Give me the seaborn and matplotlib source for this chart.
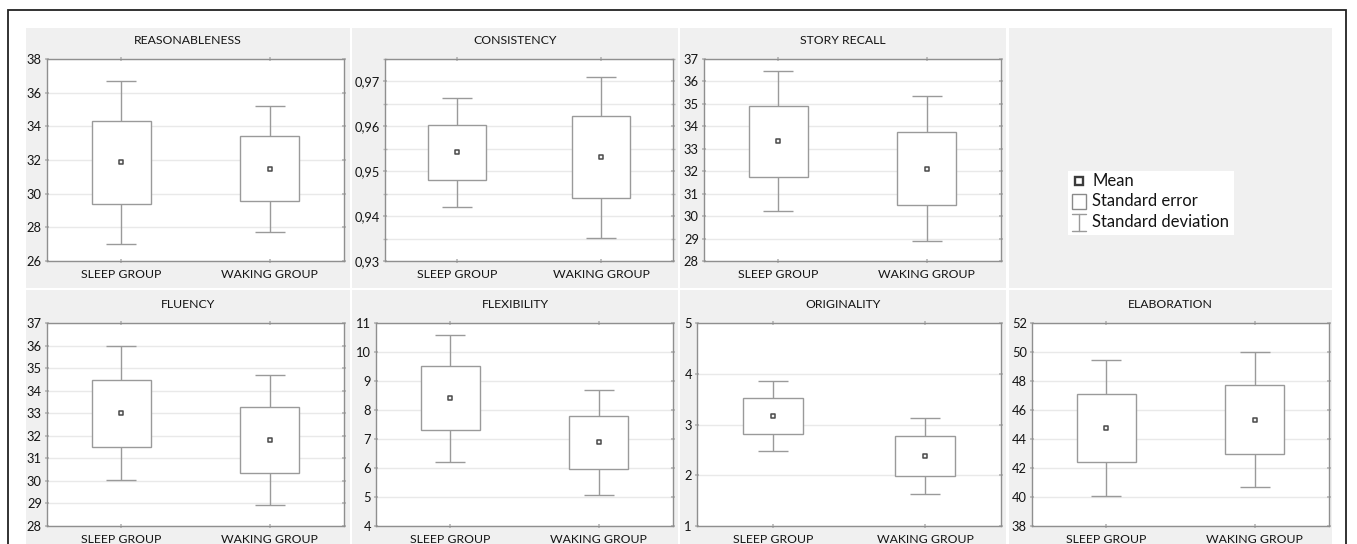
import numpy as np
import pandas as pd
import seaborn as sns
import matplotlib
matplotlib.use("Agg")
import matplotlib.pyplot as plt
from matplotlib.patches import Rectangle
from matplotlib.ticker import MultipleLocator, FuncFormatter

# ---- data -------------------------------------------------------------
groups = ["SLEEP GROUP", "WAKING GROUP"]
measures = ["REASONABLENESS", "CONSISTENCY", "STORY RECALL",
            "FLUENCY", "FLEXIBILITY", "ORIGINALITY", "ELABORATION"]

sleep_mean = [31.86, 0.9542, 33.34, 32.99, 8.41, 3.17, 44.75]
sleep_se = [2.45, 0.0062, 1.58, 1.50, 1.11, 0.35, 2.37]
sleep_sd = [4.85, 0.0122, 3.12, 2.97, 2.19, 0.69, 4.67]

waking_mean = [31.47, 0.9531, 32.12, 31.81, 6.88, 2.38, 45.33]
waking_se = [1.93, 0.0091, 1.64, 1.47, 0.92, 0.385, 2.37]
waking_sd = [3.76, 0.0179, 3.21, 2.90, 1.815, 0.74, 4.67]

legend_labels = ["Mean", "Standard error", "Standard deviation"]

# axis ranges and tick spacing per measure
y_limits = [(26, 38), (0.93, 0.975), (28, 37), (28, 37), (4, 11), (1, 5), (38, 52)]
label_step = [2, 0.01, 1, 1, 1, 1, 2]
grid_step = [2, 0.005, 1, 1, 1, 1, 2]

# ---- style ------------------------------------------------------------
sns.set_theme(style="white")
plt.rcParams["font.family"] = ["Lato", "DejaVu Sans"]

W, H = 1357, 544
fig = plt.figure(figsize=(W / 100, H / 100), dpi=100)
fig.patch.set_facecolor("white")

PANEL_BG = "#f0f0f0"
SPINE = "#8f8f8f"
GRID = "#e9e9e9"
BOX_EDGE = "#9a9a9a"
TEXT = "#141414"
FS = 8.8
TICK_FS = 9.3


def fx(px):
    return px / W


def fy(py):
    return 1 - py / H


# outer frame
fig.add_artist(Rectangle((fx(8), fy(560)), fx(1346) - fx(8), fy(10) - fy(560),
                         transform=fig.transFigure, fill=False,
                         edgecolor="#222222", linewidth=1.3, clip_on=False))

col_edges = [(26, 350), (352, 678), (680, 1006), (1009, 1332)]
row_edges = [(28, 288), (290, 560)]
for (r0, r1) in row_edges:
    for (c0, c1) in col_edges:
        fig.add_artist(Rectangle((fx(c0), fy(r1)), fx(c1) - fx(c0), fy(r0) - fy(r1),
                                 transform=fig.transFigure, facecolor=PANEL_BG,
                                 edgecolor="none", zorder=0))

# (panel row, panel column, axes left px, axes right px)
layout = [(0, 0, 47, 344), (0, 1, 385, 673), (0, 2, 704, 1001),
          (1, 0, 47, 344), (1, 1, 376, 673), (1, 2, 697, 1001), (1, 3, 1032, 1329)]
axes_rows = [(59, 261), (323, 526)]
title_y = [41, 305]

positions = np.arange(len(groups))

for i, name in enumerate(measures):
    row, col, left, right = layout[i]
    top, bottom = axes_rows[row]
    ax = fig.add_axes([fx(left), fy(bottom), fx(right) - fx(left), fy(top) - fy(bottom)])
    ax.set_facecolor("white")

    df = pd.DataFrame({
        "group": groups,
        "pos": positions,
        "mean": [sleep_mean[i], waking_mean[i]],
        "se": [sleep_se[i], waking_se[i]],
        "sd": [sleep_sd[i], waking_sd[i]],
    })

    # standard deviation whiskers
    ax.errorbar(df["pos"], df["mean"], yerr=df["sd"], fmt="none",
                ecolor=BOX_EDGE, elinewidth=1.0, capsize=10.5,
                capthick=1.0, zorder=2)
    # standard error boxes
    ax.bar(df["pos"], 2 * df["se"], bottom=df["mean"] - df["se"], width=0.4,
           facecolor="white", edgecolor=BOX_EDGE, linewidth=1.0, zorder=3)
    # means
    sns.scatterplot(data=df, x="pos", y="mean", marker="s", s=8,
                    color="#f4f4f4", edgecolor="#4a4a4a", linewidth=1.1,
                    zorder=4, ax=ax, legend=False)

    ax.set_xlim(-0.5, 1.5)
    ax.set_ylim(*y_limits[i])
    ax.set_xticks(positions)
    ax.set_xticklabels(groups)
    ax.yaxis.set_major_locator(MultipleLocator(label_step[i]))
    ax.yaxis.set_minor_locator(MultipleLocator(grid_step[i]))
    if label_step[i] < 1:
        ax.yaxis.set_major_formatter(
            FuncFormatter(lambda v, p: f"{v:.2f}".replace(".", ",")))
    else:
        ax.yaxis.set_major_formatter(FuncFormatter(lambda v, p: f"{v:g}"))
    ax.grid(True, which="both", axis="y", color=GRID, linewidth=1.0, zorder=0)
    ax.set_axisbelow(True)
    ax.set_xlabel("")
    ax.set_ylabel("")

    for s in ax.spines.values():
        s.set_color(SPINE)
        s.set_linewidth(1.0)
    ax.tick_params(axis="both", which="major", direction="inout", length=3,
                   color="#b8b8b8", labelsize=TICK_FS, labelcolor=TEXT, pad=2.2,
                   top=True, right=True, left=True, bottom=True)
    ax.tick_params(axis="y", which="minor", direction="inout", length=3,
                   color="#b8b8b8", right=True, left=True)
    ax.tick_params(axis="x", labelsize=FS, pad=4.5)

    c0, c1 = col_edges[col]
    fig.text(fx((c0 + c1) / 2), fy(title_y[row]), name, ha="center", va="center",
             fontsize=FS, color=TEXT)

# ---- key in the empty panel (drawn in a pixel-unit overlay) ------------
lx0, lx1, ly0, ly1 = 1068, 1234, 171, 235
kax = fig.add_axes([fx(lx0), fy(ly1), fx(lx1) - fx(lx0), fy(ly0) - fy(ly1)])
kax.set_xlim(0, lx1 - lx0)
kax.set_ylim(ly1 - ly0, 0)
kax.axis("off")
kax.add_patch(Rectangle((0, 0), lx1 - lx0, ly1 - ly0, facecolor="white",
                        edgecolor="none", zorder=0))
row_y = [10, 30, 51]
# mean glyph
kax.plot([11], [row_y[0]], marker="s", markersize=5.2, markerfacecolor="white",
         markeredgecolor="#3c3c3c", markeredgewidth=1.7, linestyle="none")
# standard error glyph
kax.add_patch(Rectangle((4, row_y[1] - 7.5), 14, 15, facecolor="white",
                        edgecolor="#8a8a8a", linewidth=1.0))
# standard deviation glyph
kax.plot([11, 11], [row_y[2] - 8.5, row_y[2] + 8.5], color="#9a9a9a", linewidth=1.0)
kax.plot([4, 18], [row_y[2] - 8.5, row_y[2] - 8.5], color="#9a9a9a", linewidth=1.0)
kax.plot([4, 18], [row_y[2] + 8.5, row_y[2] + 8.5], color="#9a9a9a", linewidth=1.0)
for yy, lab in zip(row_y, legend_labels):
    kax.text(24, yy, lab, ha="left", va="center", fontsize=12, color=TEXT)

fig.savefig("out.png", dpi=100, facecolor="white")
